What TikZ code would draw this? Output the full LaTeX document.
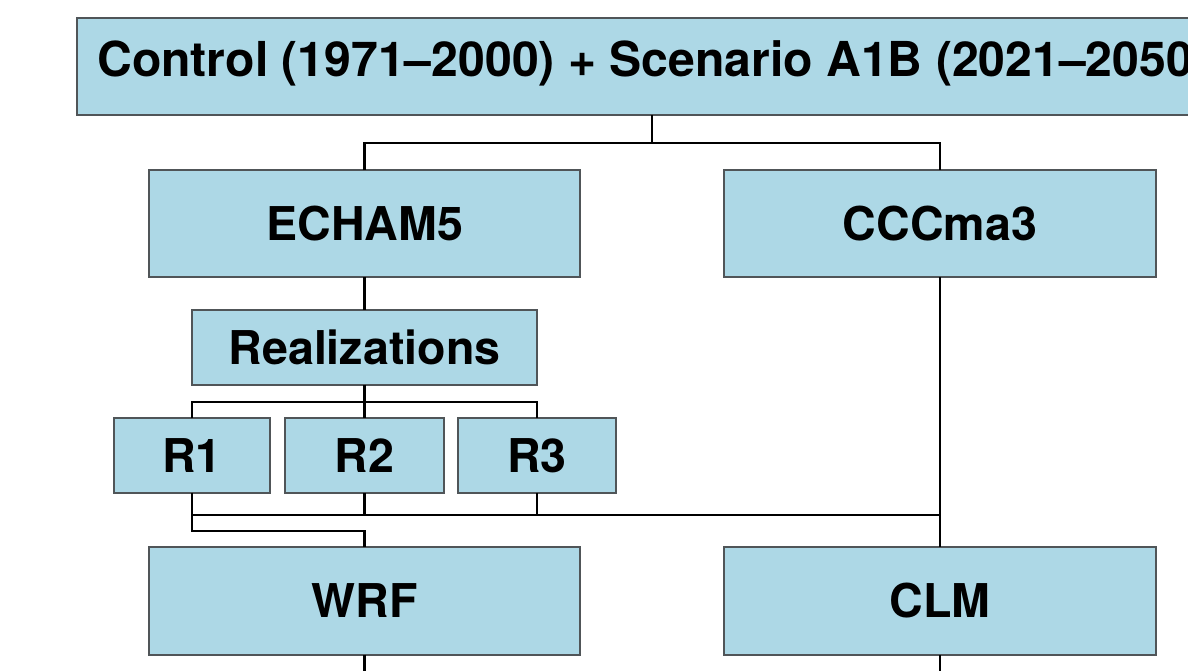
\documentclass[tikz,border=0pt]{standalone}
\usepackage{fontspec}
\setmainfont{TeX Gyre Heros}
\definecolor{boxfill}{HTML}{ADD8E6}
\definecolor{boxline}{HTML}{505558}
\begin{document}
\begin{tikzpicture}[x=0.02cm,y=-0.02cm,
  mbox/.style={draw=boxline,line width=1.1pt,fill=boxfill,rectangle,inner sep=0pt,outer sep=0pt,
    font=\fontsize{26.5}{30}\selectfont\bfseries},
  conn/.style={draw=black,line width=1.6pt}]
\useasboundingbox (0,0) rectangle (1188,671);
\clip (0,0) rectangle (1188,671);
\fill[white] (0,0) rectangle (1188,671);
% nodes
\node[mbox,minimum width=23.46cm,minimum height=1.94cm] (ctrl) at (663.5,66.5) {};
\node[anchor=base west,inner sep=0pt,font=\fontsize{27.4}{30}\selectfont\bfseries] (ctrltext) at (97,77) {Control (1971–2000) + Scenario A1B (2021–2050)};
\node[mbox,minimum width=8.62cm,minimum height=2.14cm] (echam) at (364.5,223.5) {ECHAM5};
\node[mbox,minimum width=8.64cm,minimum height=2.14cm] (cccma) at (940,223.5) {CCCma3};
\node[mbox,minimum width=6.9cm,minimum height=1.5cm] (real) at (364.5,347.5) {Realizations};
\node[mbox,minimum width=3.12cm,minimum height=1.5cm] (r1) at (192,455.5) {R1};
\node[mbox,minimum width=3.18cm,minimum height=1.5cm] (r2) at (364.5,455.5) {R2};
\node[mbox,minimum width=3.16cm,minimum height=1.5cm] (r3) at (537,455.5) {R3};
\node[mbox,minimum width=8.62cm,minimum height=2.16cm] (wrf) at (364.5,601) {WRF};
\node[mbox,minimum width=8.64cm,minimum height=2.16cm] (clm) at (940,601) {CLM};
% junctions
\coordinate (j1) at (652,143);
\coordinate (j2) at (364.5,402);
\coordinate (j3) at (940,515);
\coordinate (j4) at (364.5,531);
\coordinate (bot) at (0,690);
% connectors
\draw[conn] (ctrl.south -| j1) -- (j1);
\draw[conn] (echam.north) |- (j1) -| (cccma.north);
\draw[conn] (echam.south) -- (real.north);
\draw[conn] (real.south) -- (r2.north);
\draw[conn] (r1.north) |- (j2) -| (r3.north);
\draw[conn] (r1.south) |- (j3);
\draw[conn] (r2.south) -- (r2.south |- j3);
\draw[conn] (r3.south) -- (r3.south |- j3);
\draw[conn] (cccma.south) -- (clm.north);
\draw[conn] (r1.south) -- (r1.south |- j4) -| (wrf.north);
\draw[conn] (wrf.south) -- (wrf.south |- bot);
\draw[conn] (clm.south) -- (clm.south |- bot);
\end{tikzpicture}
\end{document}
